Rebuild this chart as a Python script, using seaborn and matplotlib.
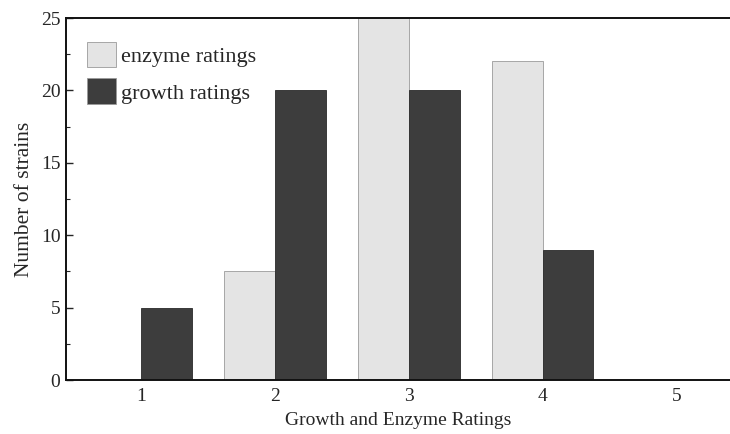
import pandas as pd
import matplotlib
matplotlib.use('Agg')
import matplotlib.pyplot as plt
from matplotlib.ticker import MultipleLocator
import seaborn as sns

sns.set_theme(style='white')
plt.rcParams['font.family'] = ['Liberation Serif', 'DejaVu Serif']

# data
ratings = ['1', '2', '3', '4', '5']
enzyme = [0, 7.5, 25, 22, 0]
growth = [5, 20, 20, 9, 0]
series = ['enzyme ratings', 'growth ratings']

df = pd.DataFrame({'rating': ratings * 2,
                   'count': enzyme + growth,
                   'kind': [series[0]] * 5 + [series[1]] * 5})

f = plt.figure(figsize=(7.3, 4.34), dpi=100)
ax = f.add_axes([0.0904, 0.1244, 0.9096, 0.8341])

sns.barplot(data=df, x='rating', y='count', hue='kind', ax=ax,
            palette={series[0]: '#e4e4e4', series[1]: '#3d3d3d'},
            width=0.76, edgecolor='#9a9a9a', linewidth=0.6)
for p in ax.patches[5:10]:
    p.set_edgecolor('#2a2a2a')

ax.set_xlim(-0.56, 4.40)
ax.set_ylim(0, 25)
ax.yaxis.set_major_locator(MultipleLocator(5))
ax.yaxis.set_minor_locator(MultipleLocator(2.5))
ax.tick_params(axis='y', which='major', direction='in', length=5, width=1,
               labelsize=14, left=True, pad=4)
ax.tick_params(axis='y', which='minor', direction='in', length=3, width=0.8,
               left=True)
ax.tick_params(axis='x', length=0, labelsize=14, pad=6)

ax.spines['right'].set_visible(False)
for s in ['left', 'bottom', 'top']:
    ax.spines[s].set_color('#111111')
    ax.spines[s].set_linewidth(1.4)

ax.set_xlabel('Growth and Enzyme Ratings', fontsize=14, labelpad=5)
ax.set_ylabel('Number of strains', fontsize=15.5, labelpad=5)

h, l = ax.get_legend_handles_labels()
ax.legend(h, l, loc='upper left', bbox_to_anchor=(0.0015, 0.99),
          frameon=False, fontsize=16, handlelength=1.3, handleheight=1.4,
          handletextpad=0.25, labelspacing=0.5, borderpad=0.4)

f.savefig('out.png', dpi=100)
